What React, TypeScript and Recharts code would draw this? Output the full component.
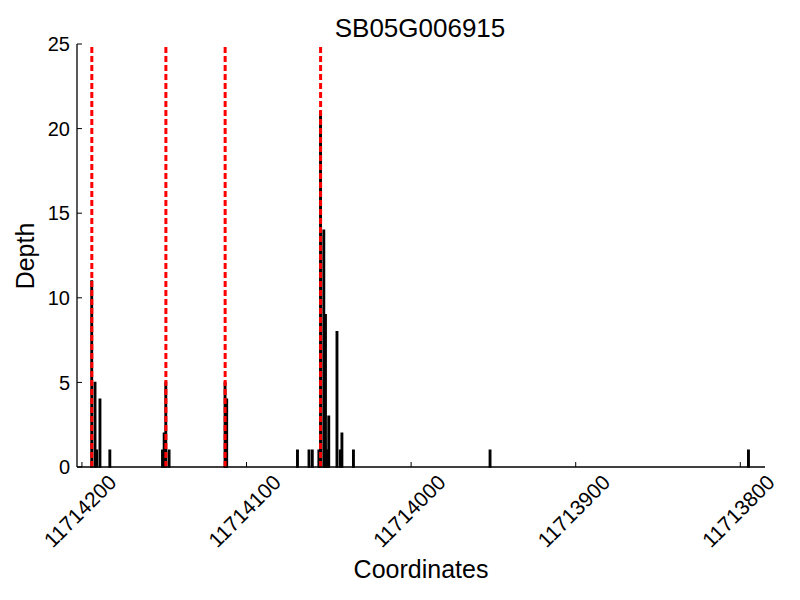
import React from 'react';
import {
  ComposedChart,
  Bar,
  XAxis,
  YAxis,
  ReferenceLine,
  Label,
} from 'recharts';

// read positions (genomic coordinate) and depth from the plot
const positions = [
  11714194, 11714192, 11714191, 11714189, 11714183,
  11714151, 11714150, 11714149, 11714147,
  11714113, 11714112,
  11714069, 11714062, 11714060, 11714056, 11714055, 11714053, 11714052,
  11714051, 11714050, 11714045, 11714043, 11714042, 11714035,
  11713952, 11713795,
];
const depths = [
  11, 5, 1, 4, 1,
  1, 2, 5, 1,
  5, 4,
  1, 1, 1, 1, 21, 14, 9,
  1, 3, 8, 1, 2, 1,
  1, 1,
];
const markers = [11714194, 11714149, 11714113, 11714055];
const xTicks = [11713800, 11713900, 11714000, 11714100, 11714200];
const yTicks = [0, 5, 10, 15, 20, 25];

const data = positions.map((pos, i) => ({ pos, depth: depths[i] }));

const FONT = '"Liberation Sans", Arial, sans-serif';

const XTick = ({ x, y, payload }: any) => (
  <text
    x={x - 2}
    y={y}
    transform={`rotate(-45 ${x - 2} ${y})`}
    textAnchor="middle"
    dominantBaseline="central"
    fontSize={21}
    fontFamily={FONT}
    fill="#000"
  >
    {payload.value}
  </text>
);

export default function App() {
  return (
    <div style={{ position: 'absolute', left: 0, top: 0, width: 800, height: 600, background: '#fff' }}>
      <ComposedChart
        width={800}
        height={600}
        data={data}
        margin={{ top: 44, right: 35, left: 0, bottom: 0 }}
        style={{ fontFamily: FONT }}
      >
        <XAxis
          dataKey="pos"
          type="number"
          reversed
          domain={[11713785, 11714203]}
          ticks={xTicks}
          allowDataOverflow
          height={133}
          tickSize={-5}
          tickMargin={49}
          tick={<XTick />}
          axisLine={{ stroke: '#000', strokeWidth: 1.3 }}
          tickLine={{ stroke: '#000', strokeWidth: 1 }}
        >
          <Label
            content={() => (
              <text x={421} y={578} textAnchor="middle" fontSize={25} fontFamily={FONT} fill="#000">
                Coordinates
              </text>
            )}
          />
        </XAxis>
        <YAxis
          type="number"
          domain={[0, 25]}
          ticks={yTicks}
          width={77}
          tickSize={-5}
          tickMargin={12}
          tick={{ fontSize: 20, fill: '#000', fontFamily: FONT }}
          axisLine={{ stroke: '#000', strokeWidth: 1.3 }}
          tickLine={{ stroke: '#000', strokeWidth: 1 }}
        >
          <Label
            content={() => (
              <text
                x={34}
                y={256}
                transform="rotate(-90 34 256)"
                textAnchor="middle"
                fontSize={25}
                fontFamily={FONT}
                fill="#000"
              >
                Depth
              </text>
            )}
          />
        </YAxis>
        <Bar
          dataKey="depth"
          fill="#000"
          stroke="#000"
          strokeWidth={1.4}
          barSize={3}
          isAnimationActive={false}
        />
        {markers.map((m) => (
          <ReferenceLine
            key={m}
            x={m}
            stroke="#ff0000"
            strokeWidth={3}
            strokeDasharray="6 3"
          />
        ))}
      </ComposedChart>
      <svg
        width={800}
        height={60}
        style={{ position: 'absolute', left: 0, top: 0, pointerEvents: 'none' }}
      >
        <text x={420} y={37} textAnchor="middle" fontSize={26} fontFamily={FONT} fill="#000">
          SB05G006915
        </text>
      </svg>
    </div>
  );
}
